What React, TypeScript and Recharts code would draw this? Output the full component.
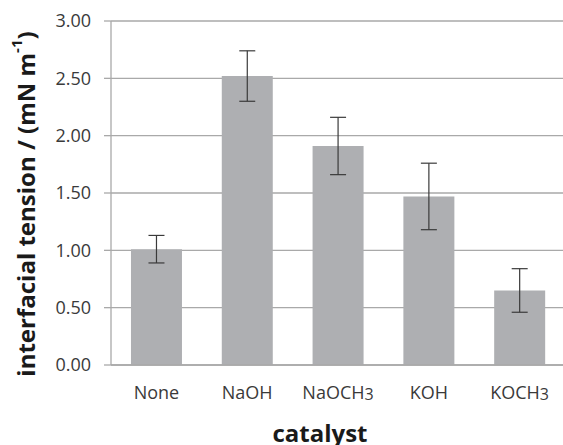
import React from 'react';
import { BarChart, Bar, XAxis, YAxis, CartesianGrid, ErrorBar, Label } from 'recharts';

const catalysts = ['None', 'NaOH', 'NaOCH3', 'KOH', 'KOCH3'];
const tension = [1.01, 2.52, 1.91, 1.47, 0.65];
const tensionErr = [0.12, 0.22, 0.25, 0.29, 0.19];
const yTicks = [0, 0.5, 1, 1.5, 2, 2.5, 3];

const data = catalysts.map((name, i) => ({ name, value: tension[i], err: tensionErr[i] }));

const FONT = '"Open Sans", sans-serif';
const TEXT = '#3a3a3a';
const GRID = '#a9a9a9';

const CatTick = (props: any) => {
    const { x, y, payload } = props;
    const label: string = payload.value;
    const m = label.match(/^(.*?)(\d)$/);
    return (
        <text x={x} y={y} dy={34} textAnchor="middle" fill={TEXT} fontFamily={FONT} fontSize={18}>
            {m ? (
                <>
                    {m[1]}
                    <tspan fontSize={16} dy={1}>{m[2]}</tspan>
                </>
            ) : label}
        </text>
    );
};

const YTitle = () => (
    <text
        x={25}
        y={204}
        transform="rotate(-90 25 204)"
        textAnchor="middle"
        dominantBaseline="central"
        fill="#1a1a1a"
        fontFamily={FONT}
        fontWeight={700}
        fontSize={24}
    >
        interfacial tension / (mN m
        <tspan fontSize={15} dy={-9}>-1</tspan>
        <tspan dy={9}>)</tspan>
    </text>
);

const XTitle = () => (
    <text x={320} y={432} textAnchor="middle" dominantBaseline="central" fill="#1a1a1a"
        fontFamily={FONT} fontWeight={700} fontSize={24}>
        catalyst
    </text>
);

export default function App() {
    return (
        <div style={{ position: 'absolute', left: 0, top: 0, width: 563, height: 445, overflow: 'hidden', background: '#fff' }}>
            <BarChart
                width={570}
                height={445}
                data={data}
                margin={{ top: 21, right: 5, bottom: 0, left: 0 }}
                barCategoryGap="22%"
            >
                <CartesianGrid vertical={false} stroke={GRID} strokeWidth={1.3} />
                <XAxis
                    dataKey="name"
                    height={80}
                    axisLine={{ stroke: GRID, strokeWidth: 1.3 }}
                    tickLine={false}
                    tickSize={0}
                    tickMargin={0}
                    tick={<CatTick />}
                    interval={0}
                >
                    <Label content={<XTitle />} />
                </XAxis>
                <YAxis
                    width={111}
                    domain={[0, 3]}
                    ticks={yTicks}
                    interval={0}
                    tickFormatter={(v: number) => v.toFixed(2)}
                    axisLine={{ stroke: GRID, strokeWidth: 1.3 }}
                    tickLine={{ stroke: GRID, strokeWidth: 1.3 }}
                    tickSize={7}
                    tickMargin={13}
                    tick={{ fill: TEXT, fontFamily: FONT, fontSize: 18 }}
                >
                    <Label content={<YTitle />} />
                </YAxis>
                <Bar dataKey="value" fill="#aeafb2" isAnimationActive={false}>
                    <ErrorBar dataKey="err" width={8} stroke="#3a3a3a" strokeWidth={1.2} direction="y" />
                </Bar>
            </BarChart>
        </div>
    );
}
